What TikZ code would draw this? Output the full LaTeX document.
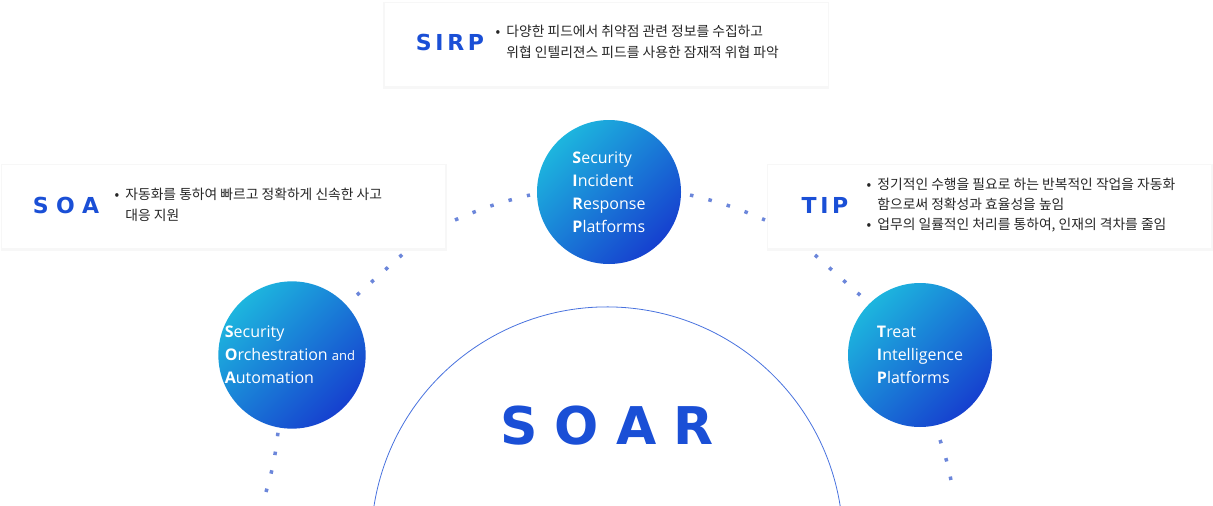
\documentclass[tikz,border=0pt]{standalone}
\usepackage{fontspec}
\setmainfont{Open Sans}
\newfontfamily\kor{Noto Sans CJK KR}
\newfontfamily\heavy{DejaVu Sans}
\definecolor{soarblue}{HTML}{1A4FD6}
\definecolor{lightcyan}{HTML}{1DB5DE}
\definecolor{deepblue}{HTML}{1640CF}
\definecolor{dotblue}{HTML}{6B86DA}
\begin{document}
\begin{tikzpicture}[x=1pt, y=-1pt,
        card/.style={fill=white, minimum height=83pt, minimum width=443pt},
        halo/.style={fill=black!3, minimum height=87pt, minimum width=446pt},
        ttl/.style={font=\heavy\fontsize{22}{22}\selectfont\bfseries, text=soarblue},
        desc/.style={font=\kor\fontsize{13.8}{21}\selectfont, align=left, anchor=west, text=black!85},
        ball/.style={circle, minimum size=144pt,
            left color=lightcyan, right color=deepblue, shading angle=45, text=white, align=left,
            font=\fontsize{16}{23}\selectfont},
        dots/.style={dotblue, line width=3.5pt, dash pattern=on 3.5pt off 15.5pt},
    ]
    \useasboundingbox (0,0) rectangle (1213,506);

    % cards
    \node[halo] at (606,45.5) {};
    \node[halo] at (223.5,207.5) {};
    \node[halo] at (989.5,207.5) {};
    \node[card] (sirpcard) at (606,44.5) {};
    \node[card] (soacard) at (223.5,206.5) {};
    \node[card] (tipcard) at (989.5,206.5) {};

    \node[ttl] (sirpttl) at (450,42) {S\,I\,R\,P};
    \node[desc] (sirptxt) at (492,42) {•\ \ 다양한 피드에서 취약점 관련 정보를 수집하고\\\phantom{•}\ \ 위협 인텔리젼스 피드를 사용한 잠재적 위협 파악};
    \node[ttl] (soattl) at (66,205) {S\,\,O\,\,A};
    \node[desc] (soatxt) at (111,205) {•\ \ 자동화를 통하여 빠르고 정확하게 신속한 사고\\\phantom{•}\ \ 대응 지원};
    \node[ttl] (tipttl) at (825,205) {T\,I\,P};
    \node[desc, font=\kor\fontsize{13.8}{20}\selectfont] (tiptxt) at (863,205) {•\ \ 정기적인 수행을 필요로 하는 반복적인 작업을 자동화\\\phantom{•}\ \ 함으로써 정확성과 효율성을 높임\\•\ \ 업무의 일률적인 처리를 통하여, 인재의 격차를 줄임};

    % circles
    \node[ball] (sirp) at (609,192) {\textbf{S}ecurity\\\textbf{I}ncident\\\textbf{R}esponse\\\textbf{P}latforms};
    \node[ball] (soa) at (292,355) {\hspace*{-4pt}\textbf{S}ecurity\\\hspace*{-4pt}\textbf{O}rchestration {\fontsize{13}{23}\selectfont and}\\\hspace*{-4pt}\textbf{A}utomation};
    \node[ball] (tip) at (920,355) {\textbf{T}reat\\\textbf{I}ntelligence\\\textbf{P}latforms};

    % core
    \draw[soarblue!80, line width=0.8pt] (374,506) arc[start angle=189, end angle=351, radius=236];
    \node[font=\heavy\fontsize{52}{52}\selectfont\bfseries, text=soarblue] (soar) at (607,426) {S\,\,O\,\,A\,\,R};

    % dotted links
    \coordinate (d1) at (266,492);
    \coordinate (d2) at (278,432);
    \coordinate (d3) at (357,295);
    \coordinate (d4) at (404,253);
    \coordinate (d5) at (455,220);
    \coordinate (d6) at (530,195);
    \coordinate (d7) at (690,195);
    \coordinate (d8) at (765,220);
    \coordinate (d9) at (815,255);
    \coordinate (d10) at (861,296);
    \coordinate (d11) at (940,440);
    \coordinate (d12) at (953,492);
    \draw[dots] (d1) to[bend right=5] (d2);
    \draw[dots] (d3) -- (d4);
    \draw[dots] (d5) to[bend left=5] (d6);
    \draw[dots] (d7) to[bend left=5] (d8);
    \draw[dots] (d9) -- (d10);
    \draw[dots] (d11) to[bend left=5] (d12);
\end{tikzpicture}
\end{document}
